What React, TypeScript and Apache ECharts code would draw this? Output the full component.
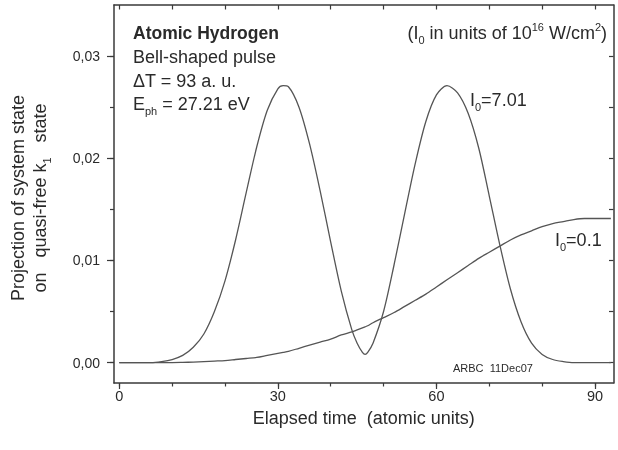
import React, { useEffect, useRef } from "react";
import * as echarts from "echarts";

// Elapsed time (atomic units)
const timeAu = [
  0, 2, 4, 6, 8, 10, 12, 14, 16, 18, 20, 22, 24, 26, 28, 30, 31, 32, 34, 36, 38, 40, 42, 44, 45, 46, 46.5, 47, 48,
  50, 52, 54, 56, 58, 60, 62, 64, 66, 68, 70, 72, 74, 76, 78, 80, 82, 84, 86, 88, 90, 92, 93,
];
// I0 = 7.01
const projHigh = [
  0, 0, 0, 0, 0.0001, 0.0003, 0.0007, 0.0015, 0.0028, 0.005, 0.008, 0.012, 0.0166, 0.0211, 0.0247, 0.0268, 0.0271,
  0.027, 0.025, 0.0214, 0.0168, 0.0118, 0.007, 0.0032, 0.0019, 0.001, 0.0008, 0.001, 0.0019, 0.005, 0.0096, 0.0146,
  0.0195, 0.0236, 0.0262, 0.0271, 0.0264, 0.0244, 0.021, 0.0163, 0.0115, 0.0072, 0.004, 0.0019, 0.0008, 0.0003,
  0.0001, 0, 0, 0, 0, 0,
];
// I0 = 0.1
const projLow = [
  0, 0, 0, 0, 0, 0, 0.00002, 0.00005, 0.0001, 0.00015, 0.0002, 0.0003, 0.0004, 0.0005, 0.0007, 0.0009, 0.001, 0.0011,
  0.0014, 0.0017, 0.002, 0.0023, 0.0027, 0.003, 0.0032, 0.0034, 0.0035, 0.0036, 0.0039, 0.0044, 0.0049, 0.0055,
  0.0061, 0.0067, 0.0074, 0.0081, 0.0088, 0.0095, 0.0102, 0.0108, 0.0114, 0.012, 0.0125, 0.0129, 0.0133, 0.0136,
  0.0138, 0.014, 0.0141, 0.0141, 0.0141, 0.0141,
];

const xTickValues = [0, 10, 20, 30, 40, 50, 60, 70, 80, 90];
const xLabelValues = [0, 30, 60, 90];
const yTickValues = [0, 0.005, 0.01, 0.015, 0.02, 0.025, 0.03];
const yLabelValues = [0, 0.01, 0.02, 0.03];

const FONT = "'Liberation Sans', Arial, sans-serif";
const AX = "#3a3a3a";
const TXT = "#2a2a2a";
const LINE = "#555555";

export default function App() {
  const ref = useRef<HTMLDivElement>(null);
  useEffect(() => {
    if (!ref.current) return;
    const chart = echarts.init(ref.current, undefined, { renderer: "svg" });
    const xMin = -1;
    const xMax = 93.5;
    const yMin = -0.002;
    const yMax = 0.035;
    const axisLine = { show: true, onZero: false, lineStyle: { color: AX, width: 1.5 } };
    const noLine = { show: false, onZero: false };
    const tickStyle = { color: AX, width: 1.2 };
    const subRich = {
      sub: { fontSize: 11, fontFamily: FONT, fill: TXT, color: TXT, lineHeight: 12, verticalAlign: "bottom" },
      sup: { fontSize: 11, fontFamily: FONT, fill: TXT, color: TXT, lineHeight: 12, verticalAlign: "top" },
    };
    const txt = (x: number, y: number, text: string, extra: any = {}) => ({
      type: "text",
      x,
      y,
      rotation: extra.rotation || 0,
      style: {
        text,
        fontFamily: FONT,
        fontSize: extra.fontSize || 18,
        fontWeight: extra.fontWeight || "normal",
        fill: TXT,
        align: extra.align || "left",
        verticalAlign: "middle",
        lineHeight: extra.lineHeight || 24,
        rich: subRich,
      },
    });
    chart.setOption({
      animation: false,
      grid: { left: 114, right: 4.5, top: 5, bottom: 67, containLabel: false },
      xAxis: [
        {
          type: "value",
          position: "bottom",
          min: xMin,
          max: xMax,
          axisLine,
          axisTick: { show: true, inside: false, length: 3.5, customValues: xTickValues, lineStyle: tickStyle },
          axisLabel: {
            customValues: xLabelValues,
            formatter: (v: number) => String(v),
            fontFamily: FONT,
            fontSize: 14.5,
            color: TXT,
            margin: 5,
          },
          splitLine: { show: false },
          name: "Elapsed time  (atomic units)",
          nameLocation: "middle",
          nameGap: 26,
          nameTextStyle: { fontFamily: FONT, fontSize: 18, color: TXT },
        },
        {
          type: "value",
          position: "bottom",
          min: xMin,
          max: xMax,
          axisLine: noLine,
          axisTick: { show: true, inside: false, length: 6, customValues: xLabelValues, lineStyle: tickStyle },
          axisLabel: { show: false },
          splitLine: { show: false },
        },
        {
          type: "value",
          position: "top",
          min: xMin,
          max: xMax,
          axisLine,
          axisTick: { show: true, inside: true, length: 4.5, customValues: xTickValues, lineStyle: tickStyle },
          axisLabel: { show: false },
          splitLine: { show: false },
        },
      ],
      yAxis: [
        {
          type: "value",
          position: "left",
          min: yMin,
          max: yMax,
          axisLine,
          axisTick: { show: true, inside: false, length: 4, customValues: yTickValues, lineStyle: tickStyle },
          axisLabel: {
            customValues: yLabelValues,
            formatter: (v: number) => v.toFixed(2).replace(".", ","),
            fontFamily: FONT,
            fontSize: 14,
            color: TXT,
            margin: 14,
          },
          splitLine: { show: false },
        },
        {
          type: "value",
          position: "left",
          min: yMin,
          max: yMax,
          axisLine: noLine,
          axisTick: { show: true, inside: false, length: 7, customValues: yLabelValues, lineStyle: tickStyle },
          axisLabel: { show: false },
          splitLine: { show: false },
        },
        {
          type: "value",
          position: "right",
          min: yMin,
          max: yMax,
          axisLine,
          axisTick: { show: true, inside: true, length: 4.5, customValues: yTickValues, lineStyle: tickStyle },
          axisLabel: { show: false },
          splitLine: { show: false },
        },
      ],
      series: [
        {
          type: "line",
          name: "I0=7.01",
          xAxisIndex: 0,
          yAxisIndex: 0,
          data: timeAu.map((t, i) => [t, projHigh[i]]),
          showSymbol: false,
          smooth: 0.3,
          lineStyle: { color: LINE, width: 1.3 },
        },
        {
          type: "line",
          name: "I0=0.1",
          xAxisIndex: 0,
          yAxisIndex: 0,
          data: timeAu.map((t, i) => [t, projLow[i]]),
          showSymbol: false,
          smooth: 0.3,
          lineStyle: { color: LINE, width: 1.3 },
        },
      ],
      graphic: [
        txt(133, 33, "Atomic Hydrogen", { fontWeight: "bold", fontSize: 17.5 }),
        txt(133, 57, "Bell-shaped pulse"),
        txt(133, 81, "\u0394T = 93 a. u."),
        txt(133, 104, "E{sub|ph} = 27.21 eV"),
        txt(607, 33, "(I{sub|0} in units of 10{sup|16} W/cm{sup|2})", { align: "right" }),
        txt(470, 100, "I{sub|0}=7.01"),
        txt(555, 240, "I{sub|0}=0.1"),
        {
          type: "text",
          x: 453,
          y: 368,
          style: { text: "ARBC  11Dec07", fontFamily: FONT, fontSize: 11, fill: TXT, align: "left", verticalAlign: "middle" },
        },
        txt(18, 198, "Projection of system state", { align: "center", rotation: Math.PI / 2 }),
        txt(40, 198, "on   quasi-free k{sub|1}   state", { align: "center", rotation: Math.PI / 2 }),
      ],
    });
    return () => chart.dispose();
  }, []);
  return <div ref={ref} style={{ position: "fixed", left: 0, top: 0, width: 618, height: 450 }} />;
}
